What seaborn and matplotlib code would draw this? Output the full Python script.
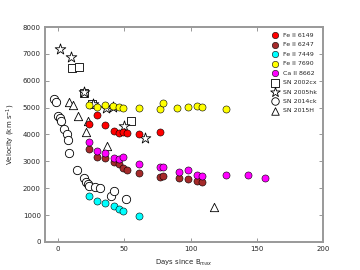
import matplotlib
matplotlib.use("Agg")
import matplotlib.pyplot as plt
import seaborn as sns

# velocities (days since B max, km/s)
fe6149_x = [23, 29, 35, 42, 46, 49, 52, 61, 77]
fe6149_y = [4400, 4720, 4340, 4140, 4070, 4100, 4040, 4030, 4080]

fe6247_x = [23, 29, 35, 42, 46, 49, 52, 61, 77, 79, 91.5, 98, 105, 109]
fe6247_y = [3460, 3160, 3110, 2975, 2890, 2750, 2665, 2580, 2430, 2455, 2390, 2355, 2270, 2220]

fe7449_x = [23, 29, 35, 42, 46, 49, 61]
fe7449_y = [1725, 1540, 1440, 1350, 1240, 1155, 980]

fe7690_x = [23, 29, 35, 41.5, 46, 49, 61, 77, 79, 90, 98, 105, 109, 127]
fe7690_y = [5100, 5010, 5110, 5060, 5020, 4990, 4970, 4960, 5170, 5000, 5020, 5070, 5020, 4960]

ca8662_x = [23, 29, 35, 42, 46, 49, 61, 77, 79, 91.5, 98, 105, 109, 127, 143.5, 156.5]
ca8662_y = [3710, 3385, 3300, 3140, 3090, 3175, 2890, 2780, 2780, 2615, 2680, 2505, 2470, 2480, 2480, 2390]

sn02cx_x = [10.5, 15.5, 19.3, 25.7, 55.3]
sn02cx_y = [6480, 6520, 5550, 5130, 4510]

sn05hk_x = [1, 9.5, 19.3, 26, 36, 41.5, 50, 65.5]
sn05hk_y = [7180, 6870, 5580, 5120, 4970, 5040, 4315, 3870]

sn14ck_x = [-3, -2, -0.5, 1, 2.2, 4.7, 6.3, 7.3, 8.3, 14.5, 19.7, 20.8, 22.3, 23.5, 27.7, 31.7, 39.5, 41.8, 51.2]
sn14ck_y = [5310, 5200, 4700, 4600, 4490, 4190, 4000, 3800, 3300, 2690, 2390, 2240, 2150, 2100, 2060, 2000, 1700, 1910, 1590]

sn15h_x = [8.3, 11.5, 15.3, 22.3, 21.2, 36.5, 118]
sn15h_y = [5200, 5080, 4690, 4500, 4100, 3560, 1290]

sns.set_style("ticks")
plt.rcParams['font.family'] = ['DejaVu Sans']

fig, ax = plt.subplots(figsize=(3.6, 2.7), dpi=100)
fig.subplots_adjust(left=0.125, right=0.897, top=0.9, bottom=0.104)

# open symbols for the comparison SNe
open_kw = dict(facecolor='white', edgecolor='black', linewidth=0.6, s=36, ax=ax)
sns.scatterplot(x=sn02cx_x, y=sn02cx_y, marker='s', label='SN 2002cx', **open_kw)
sns.scatterplot(x=sn05hk_x, y=sn05hk_y, marker='*', label='SN 2005hk', facecolor='white',
                edgecolor='black', linewidth=0.6, s=65, ax=ax)
sns.scatterplot(x=sn14ck_x, y=sn14ck_y, marker='o', label='SN 2014ck', **open_kw)
sns.scatterplot(x=sn15h_x, y=sn15h_y, marker='^', label='SN 2015H', **open_kw)

# filled circles for the line velocities
line_kw = dict(marker='o', edgecolor='black', linewidth=0.4, s=26, ax=ax, zorder=3)
sns.scatterplot(x=fe6149_x, y=fe6149_y, color='red', label='Fe II 6149', **line_kw)
sns.scatterplot(x=fe6247_x, y=fe6247_y, color='#a52a2a', label='Fe II 6247', **line_kw)
sns.scatterplot(x=fe7449_x, y=fe7449_y, color='cyan', label='Fe II 7449', **line_kw)
sns.scatterplot(x=fe7690_x, y=fe7690_y, color='yellow', label='Fe II 7690', **line_kw)
sns.scatterplot(x=ca8662_x, y=ca8662_y, color='magenta', label='Ca II 8662', **line_kw)

ax.set_xlim(-10, 200)
ax.set_ylim(0, 8000)
ax.set_xticks([0, 50, 100, 150, 200])
ax.set_yticks(range(0, 8001, 1000))
ax.set_xlabel(r'Days since B$_{max}$', fontsize=5)
ax.set_ylabel(r'Velocity (km s$^{-1}$)', fontsize=5)
ax.tick_params(direction='in', length=3, width=0.6, labelsize=5, top=True, right=True,
               color='#888888', pad=3)
for sp in ax.spines.values():
    sp.set_color('#999999')
    sp.set_linewidth(1.4)

# legend: filled lines first, then SNe
handles, labels = ax.get_legend_handles_labels()
order = ['Fe II 6149', 'Fe II 6247', 'Fe II 7449', 'Fe II 7690', 'Ca II 8662',
         'SN 2002cx', 'SN 2005hk', 'SN 2014ck', 'SN 2015H']
hmap = dict(zip(labels, handles))
ax.legend([hmap[k] for k in order], order, loc='upper right', frameon=False, fontsize=4.5,
          handletextpad=0.3, labelspacing=0.65, borderaxespad=0.5, markerscale=0.9)

fig.savefig('out.png', dpi=100)
